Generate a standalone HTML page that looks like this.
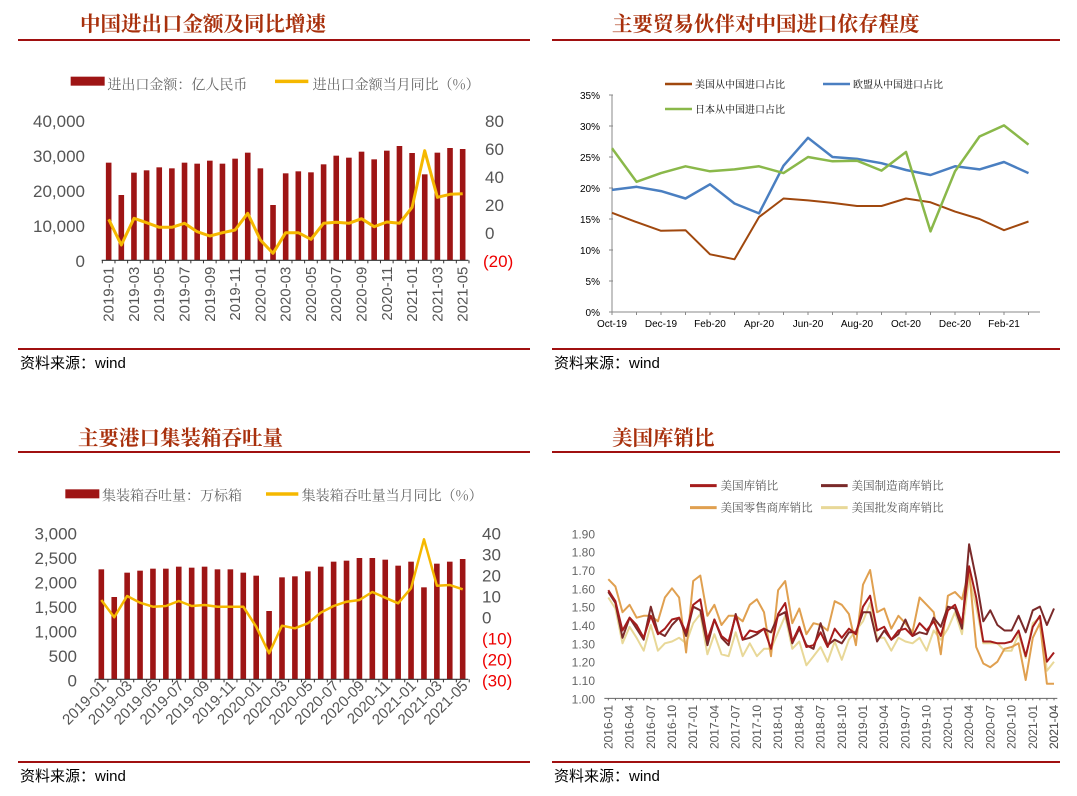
<!DOCTYPE html>
<html><head><meta charset="utf-8"><style>
body{margin:0;background:#fff;}
svg text{font-family:"Liberation Sans","Noto Sans CJK SC",sans-serif;}
.cj{font-family:"Noto Serif CJK SC","Liberation Serif",serif;}
</style></head><body>
<svg id="s" width="1077" height="791" xmlns="http://www.w3.org/2000/svg"></svg>
<script>
const s=document.getElementById('s');let h='';
function t(x,y,txt,o){o=o||{};h+=`<text x="${x}" y="${y}" font-size="${o.fs||12}" fill="${o.c||'#555'}" text-anchor="${o.a||'start'}" ${o.cls?'class="'+o.cls+'"':''} ${o.fw?'font-weight="'+o.fw+'"':''} ${o.tr?'transform="'+o.tr+'"':''}>${txt}</text>`;}
function l(x1,y1,x2,y2,c,w){h+=`<line x1="${x1}" y1="${y1}" x2="${x2}" y2="${y2}" stroke="${c}" stroke-width="${w||1}"/>`;}
function pl(pts,c,w){h+=`<polyline fill="none" stroke="${c}" stroke-width="${w}" stroke-linejoin="round" points="${pts.map(p=>p[0].toFixed(1)+','+p[1].toFixed(1)).join(' ')}"/>`;}
function r(x,y,w,hh,c){h+=`<rect x="${x}" y="${y}" width="${w}" height="${hh}" fill="${c}"/>`;}
const TC='#a8300c',LC='#a01010';
t(80,31,'中国进出口金额及同比增速',{fs:20.5,c:TC,fw:'bold',cls:'cj'});
t(612,31,'主要贸易伙伴对中国进口依存程度',{fs:20.5,c:TC,fw:'bold',cls:'cj'});
t(78,445,'主要港口集装箱吞吐量',{fs:20.5,c:TC,fw:'bold',cls:'cj'});
t(612,445,'美国库销比',{fs:20.5,c:TC,fw:'bold',cls:'cj'});
l(18,40,530,40,LC,2);l(552,40,1060,40,LC,2);
l(18,452,530,452,LC,2);l(552,452,1060,452,LC,2);
l(18,349,530,349,LC,2);l(552,349,1060,349,LC,2);
l(18,762,530,762,LC,2);l(552,762,1060,762,LC,2);
['资料来源：wind'].forEach(z=>{t(20,368,z,{fs:15,c:'#000'});t(554,368,z,{fs:15,c:'#000'});t(20,781,z,{fs:15,c:'#000'});t(554,781,z,{fs:15,c:'#000'});});
const months=[];for(let y=2019;y<=2021;y++)for(let m=1;m<=12;m++){if(y==2021&&m>5)break;months.push(y+'-'+String(m).padStart(2,'0'));}
const BR='#9e1515',YL='#f5b800';
{const ox=0,oy=60;const X=z=>ox+z/3,Y=z=>oy+z/3;
r(X(212),Y(50),34,9,BR);t(X(322),Y(88),'进出口金额：亿人民币',{fs:14,c:'#666',cls:'cj'});
l(X(825),Y(64),X(925),Y(64),YL,3.5);t(X(938),Y(88),'进出口金额当月同比（%）',{fs:14,c:'#666',cls:'cj'});
['40,000','30,000','20,000','10,000','0'].forEach((v,i)=>t(85,Y(180+i*105)+7,v,{fs:17,c:'#555',a:'end'}));
['80','60','40','20','0'].forEach((v,i)=>t(485,Y(180+i*84)+7,v,{fs:17,c:'#555'}));t(483,Y(600)+7,'(20)',{fs:17,c:'#e00'});
const tops=[308,405,338,331,322,325,308,311,302,311,296,278,325,435,340,334,337,313,287,293,275,298,272,258,279,343,278,264,267];
const ln=[478,555,475,488,502,502,490,515,528,518,510,460,540,580,518,518,538,490,487,490,476,500,486,490,442,272,412,403,401];
const xs=i=>326+i*(1388-326)/28;
tops.forEach((tp,i)=>r(X(xs(i))-2.8,Y(tp),5.6,Y(600)-Y(tp),BR));
l(X(305),Y(601),X(1405),Y(601),'#333',1.2);
for(let i=0;i<=29;i++){const xx=X(xs(i)-19);l(xx,Y(601),xx,Y(601)+3,'#333');}
pl(ln.map((v,i)=>[X(xs(i)),Y(v)]),YL,3);
months.forEach((m,i)=>{if(i%2==0)t(0,0,m,{fs:15,c:'#555',a:'end',tr:`translate(${X(xs(i))+5},${Y(620)}) rotate(-90)`});});}
{const ox=0,oy=470;const X=z=>ox+z/3,Y=z=>oy+z/3;
r(X(196),Y(58),34,9,BR);t(X(306),Y(92),'集装箱吞吐量：万标箱',{fs:14,c:'#666',cls:'cj'});
l(X(798),Y(72),X(895),Y(72),YL,3.5);t(X(905),Y(92),'集装箱吞吐量当月同比（%）',{fs:14,c:'#666',cls:'cj'});
['3,000','2,500','2,000','1,500','1,000','500','0'].forEach((v,i)=>t(77,Y(188+i*73.3)+7,v,{fs:17,c:'#555',a:'end'}));
['40','30','20','10','0'].forEach((v,i)=>t(482,Y(188+i*62.8)+7,v,{fs:17,c:'#555'}));
['(10)','(20)','(30)'].forEach((v,i)=>t(482,Y(502+i*63)+7,v,{fs:17,c:'#e00'}));
const tops=[298,381,308,302,296,296,290,293,290,298,298,308,317,423,322,319,304,290,275,272,264,264,269,287,275,352,281,275,267];
const ln=[390,442,378,398,410,408,393,408,405,410,410,410,470,550,467,475,460,428,408,395,390,366,383,400,355,208,347,345,358];
const xs=i=>304+i*(1388-304)/28;
tops.forEach((tp,i)=>r(X(xs(i))-2.8,Y(tp),5.6,Y(628)-Y(tp),BR));
l(X(285),Y(628),X(1405),Y(628),'#333',1.2);
for(let i=0;i<=29;i++){const xx=X(xs(i)-19);l(xx,Y(628),xx,Y(628)+3,'#333');}
pl(ln.map((v,i)=>[X(xs(i)),Y(v)]),YL,2.5);
months.forEach((m,i)=>{if(i%2==0)t(0,0,m,{fs:15,c:'#555',a:'end',tr:`translate(${X(xs(i))+6},${Y(650)}) rotate(-45)`});});}
{const ox=550,oy=470;const X=z=>ox+z/3,Y=z=>oy+z/3;
const leg=[[420,47,'#a51c1c','美国库销比'],[813,47,'#7a2a2a','美国制造商库销比'],[420,113,'#e0a050','美国零售商库销比'],[813,113,'#e8d898','美国批发商库销比']];
leg.forEach(g=>{l(X(g[0]),Y(g[1]),X(g[0]+80),Y(g[1]),g[2],3);t(X(g[0]+92),Y(g[1])+4,g[3],{fs:11.5,c:'#555',cls:'cj'});});
for(let i=0;i<10;i++)t(X(135),Y(190+i*55)+5,(1.9-i*0.1).toFixed(2),{fs:12,c:'#666',a:'end'});
const yv=v=>Y(685-(v-1)*550);const xs=i=>X(175+i*(1512-175)/63);
l(X(163),Y(685),X(1522),Y(685),'#666',1);
for(let i=0;i<64;i++)l(xs(i),Y(685),xs(i),Y(685)+2,'#666');
const red=[1.59,1.53,1.37,1.44,1.40,1.33,1.45,1.35,1.38,1.43,1.44,1.36,1.51,1.54,1.32,1.43,1.34,1.31,1.45,1.32,1.37,1.36,1.38,1.27,1.46,1.52,1.31,1.39,1.28,1.29,1.36,1.28,1.38,1.33,1.38,1.35,1.50,1.56,1.37,1.39,1.32,1.37,1.38,1.34,1.41,1.37,1.42,1.34,1.48,1.51,1.41,1.72,1.55,1.31,1.31,1.30,1.30,1.31,1.37,1.23,1.39,1.45,1.20,1.25];
const dk=[1.58,1.52,1.33,1.44,1.38,1.32,1.50,1.36,1.34,1.40,1.44,1.34,1.50,1.48,1.29,1.43,1.33,1.29,1.46,1.32,1.33,1.35,1.38,1.36,1.45,1.47,1.30,1.38,1.29,1.27,1.41,1.29,1.32,1.30,1.36,1.36,1.47,1.47,1.31,1.37,1.32,1.35,1.43,1.34,1.36,1.35,1.44,1.39,1.50,1.49,1.38,1.84,1.65,1.42,1.48,1.40,1.37,1.37,1.45,1.36,1.48,1.50,1.40,1.49];
const or=[1.65,1.61,1.47,1.51,1.44,1.45,1.45,1.42,1.55,1.60,1.55,1.25,1.64,1.67,1.45,1.51,1.40,1.45,1.45,1.42,1.51,1.54,1.47,1.23,1.59,1.64,1.41,1.49,1.35,1.41,1.40,1.37,1.53,1.51,1.46,1.29,1.62,1.70,1.47,1.49,1.38,1.45,1.41,1.36,1.55,1.51,1.47,1.24,1.56,1.58,1.54,1.70,1.28,1.19,1.17,1.20,1.27,1.28,1.30,1.10,1.33,1.41,1.08,1.08];
const pa=[1.55,1.49,1.30,1.39,1.33,1.26,1.40,1.26,1.30,1.31,1.33,1.30,1.41,1.46,1.24,1.35,1.24,1.23,1.36,1.23,1.30,1.23,1.27,1.27,1.36,1.45,1.27,1.31,1.18,1.23,1.28,1.20,1.31,1.21,1.32,1.37,1.42,1.52,1.33,1.33,1.26,1.33,1.31,1.30,1.33,1.26,1.37,1.32,1.38,1.47,1.35,1.66,1.50,1.30,1.30,1.30,1.26,1.26,1.35,1.22,1.41,1.44,1.15,1.20];
[[pa,'#e8d898'],[or,'#e0a050'],[dk,'#7a2a2a'],[red,'#a51c1c']].forEach(q=>pl(q[0].map((v,i)=>[xs(i),yv(v)]),q[1],2));
for(let i=0;i<64;i+=3){const d=new Date(2016,i,1);const lab=d.getFullYear()+'-'+String(d.getMonth()+1).padStart(2,'0');t(0,0,lab,{fs:12,c:'#555',a:'end',tr:`translate(${xs(i)+4},${Y(705)}) rotate(-90)`});}
t(0,0,'2021-04',{fs:12,c:'#555',a:'end',tr:`translate(${xs(63)+4},${Y(705)}) rotate(-90)`});}
{const yv=v=>312-v*217/35;const xs=i=>612+i*24.5;
for(let i=0;i<=7;i++){t(600,yv(i*5)+4,(i*5)+'%',{fs:10,c:'#000',a:'end'});l(609,yv(i*5),613,yv(i*5),'#888');}
l(612,95,612,312,'#888');l(612,312,1040,312,'#888');
const xl=['Oct-19','Dec-19','Feb-20','Apr-20','Jun-20','Aug-20','Oct-20','Dec-20','Feb-21'];
xl.forEach((v,i)=>t(xs(i*2),327,v,{fs:10,c:'#000',a:'middle'}));
for(let i=0;i<18;i++)l(xs(i),312,xs(i),315,'#888');
const us=[16,14.5,13.1,13.2,9.3,8.5,15.3,18.3,18,17.6,17.1,17.1,18.3,17.7,16.2,15,13.2,14.6];
const eu=[19.7,20.2,19.5,18.3,20.6,17.5,15.9,23.6,28.1,25,24.7,24,22.9,22.1,23.5,23,24.2,22.4];
const jp=[26.4,21,22.4,23.5,22.7,23,23.5,22.4,25,24.3,24.4,22.8,25.8,13,22.7,28.3,30.1,27];
pl(us.map((v,i)=>[xs(i),yv(v)]),'#a0480e',2);pl(eu.map((v,i)=>[xs(i),yv(v)]),'#4a7fc1',2.5);pl(jp.map((v,i)=>[xs(i),yv(v)]),'#8ab84a',2.5);
l(665,84,692,84,'#a0480e',2.5);t(695,88,'美国从中国进口占比',{fs:10,c:'#000',cls:'cj'});
l(823,84,850,84,'#4a7fc1',2.5);t(853,88,'欧盟从中国进口占比',{fs:10,c:'#000',cls:'cj'});
l(665,109,692,109,'#8ab84a',2.5);t(695,113,'日本从中国进口占比',{fs:10,c:'#000',cls:'cj'});}
s.innerHTML=h;
</script>
</body></html>
